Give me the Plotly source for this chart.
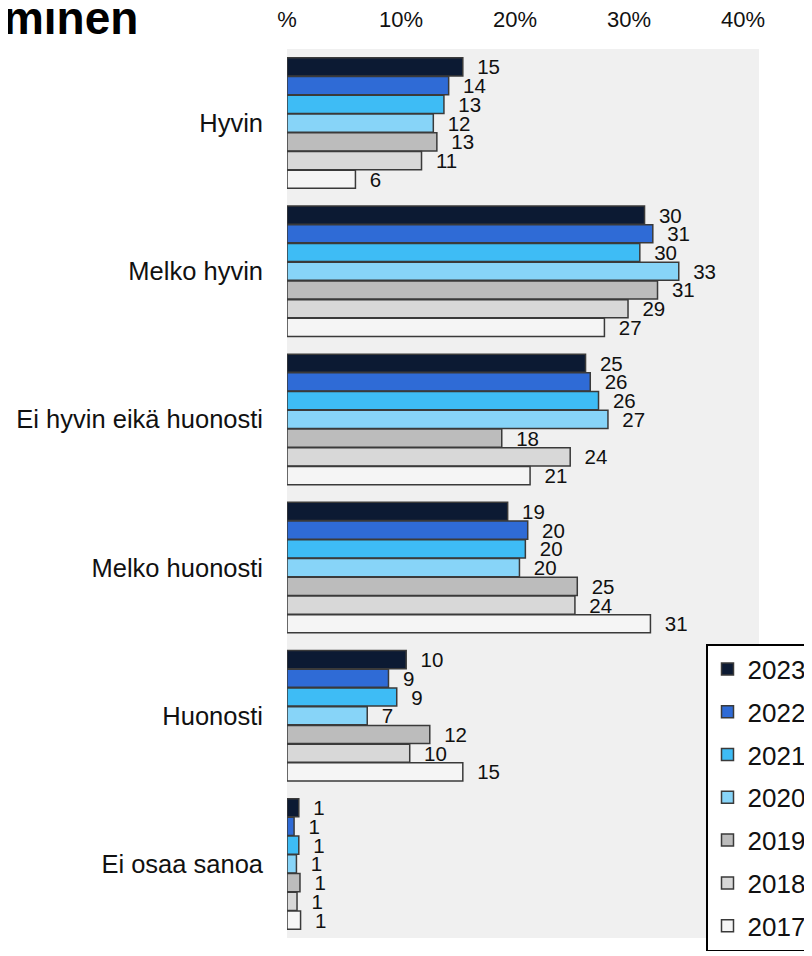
import plotly.graph_objects as go

categories = ["Hyvin", "Melko hyvin", "Ei hyvin eikä huonosti", "Melko huonosti", "Huonosti", "Ei osaa sanoa"]
years = ["2023", "2022", "2021", "2020", "2019", "2018", "2017"]

v2023 = [14.9, 30.3, 25.3, 18.7, 10.1, 1.0]
v2022 = [13.7, 31.0, 25.7, 20.4, 8.6, 0.6]
v2021 = [13.3, 29.9, 26.4, 20.2, 9.3, 1.0]
v2020 = [12.4, 33.2, 27.2, 19.7, 6.8, 0.8]
v2019 = [12.7, 31.4, 18.2, 24.6, 12.1, 1.1]
v2018 = [11.4, 28.9, 24.0, 24.4, 10.4, 0.85]
v2017 = [5.8, 26.9, 20.6, 30.8, 14.9, 1.15]
series = [v2023, v2022, v2021, v2020, v2019, v2018, v2017]

colors = ["#0c1a33", "#2f6bd6", "#3ebcf5", "#87d4f8", "#bcbcbc", "#d8d8d8", "#f5f5f5"]

tick_vals = [0, 10, 20, 30, 40]
tick_text = ["%", "10%", "20%", "30%", "40%"]

title_text = "Kehittyminen"

FONT = "Liberation Sans, Arial, sans-serif"

fig = go.Figure()
for yr, vals, col in zip(years, series, colors):
    fig.add_trace(go.Bar(
        y=categories, x=vals, name=yr, orientation="h",
        marker=dict(color=col, line=dict(color="#3a3a3a", width=1.5)),
        text=vals, texttemplate="\u00a0\u00a0%{x:.0f}", textposition="outside",
        constraintext="none", cliponaxis=False,
        textfont=dict(family=FONT, size=20.5, color="#111111"),
        legendgroup=yr,
    ))

# invisible helper for the top percentage scale
fig.add_trace(go.Scatter(x=[0], y=[categories[0]], xaxis="x2", mode="markers",
                         marker=dict(opacity=0), showlegend=False, hoverinfo="skip"))

fig.update_layout(
    width=812, height=956,
    margin=dict(l=279, r=61, t=41, b=26, autoexpand=False),
    paper_bgcolor="white", plot_bgcolor="#f0f0f0",
    barmode="group", bargap=0.115, bargroupgap=0.03,
    font=dict(family=FONT, color="#111111"),
    xaxis=dict(range=[0, 40], showticklabels=False, showgrid=False, zeroline=False,
               showline=False, ticks="", automargin=False),
    xaxis2=dict(range=[0, 41.4], overlaying="x", side="top", tickvals=tick_vals,
                ticktext=tick_text, showgrid=False, zeroline=False, showline=False,
                ticks="", tickfont=dict(size=22, family=FONT, color="#111111"),
                ticklabelstandoff=17, automargin=False),
    yaxis=dict(autorange="reversed", showgrid=False, zeroline=False, showline=False,
               ticks="", tickfont=dict(size=25.5, family=FONT, color="#111111"),
               ticklabelstandoff=23, automargin=False),
    legend=dict(x=(706 - 287) / 472, xanchor="left", y=(938 - 644) / 889, yanchor="top",
                bgcolor="white", bordercolor="#000000", borderwidth=1.5,
                font=dict(size=26, family=FONT, color="#111111"),
                traceorder="grouped", tracegroupgap=6, itemwidth=30),
    annotations=[dict(text="<b>" + title_text + "</b>", xref="paper", yref="paper",
                      x=(140 - 287) / 472, xanchor="right",
                      y=(938 - 18) / 889, yanchor="middle", showarrow=False,
                      font=dict(size=46, family=FONT, color="#000000"))],
)

fig.write_html("out.html")
